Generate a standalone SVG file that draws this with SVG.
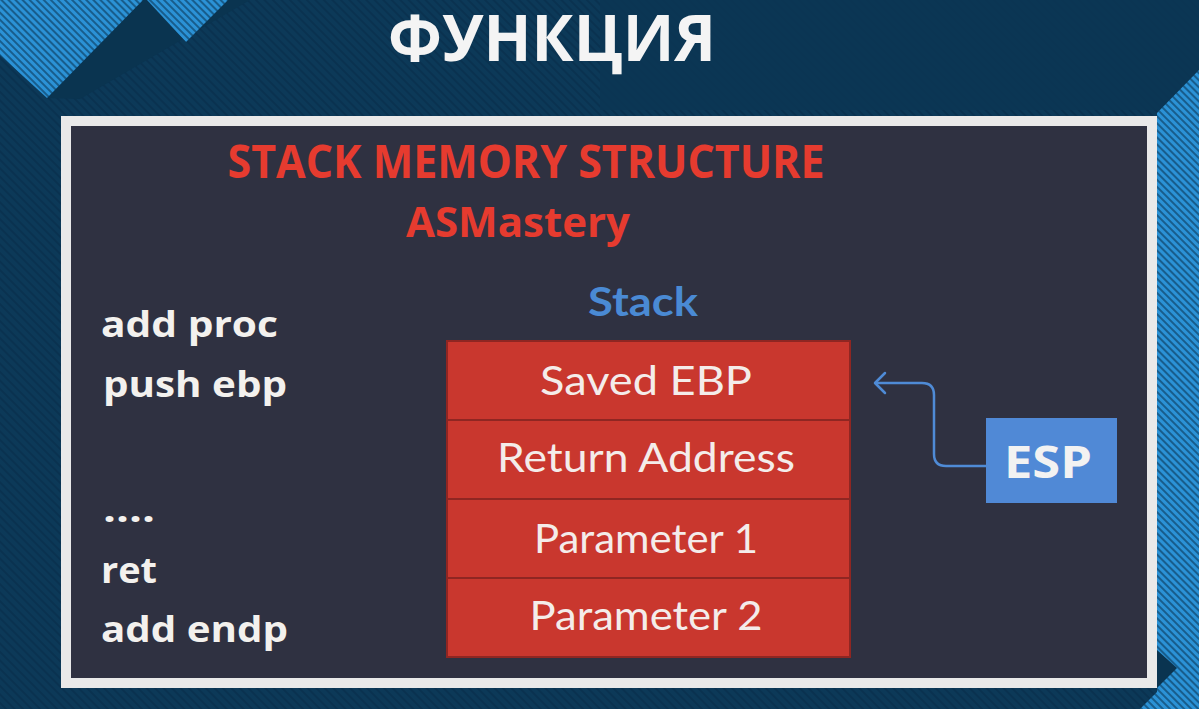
<svg xmlns="http://www.w3.org/2000/svg" width="1199" height="709" viewBox="0 0 1199 709">
  <defs>
    <!-- faint diagonal texture of the navy backdrop -->
    <pattern id="navyTex" width="6" height="6" patternUnits="userSpaceOnUse" patternTransform="rotate(-45)">
      <rect width="6" height="6" fill="#0c3958"/>
      <rect width="2" height="6" fill="#0a3250"/>
    </pattern>
    <!-- bright blue hatch used on the corner bands -->
    <pattern id="blueHatch" width="5" height="5" patternUnits="userSpaceOnUse" patternTransform="rotate(-45)">
      <rect width="5" height="5" fill="#2b92d6"/>
      <rect width="2" height="5" fill="#185d8c"/>
    </pattern>
    <marker id="chevron" markerUnits="userSpaceOnUse" markerWidth="20" markerHeight="24" refX="12" refY="12" orient="auto">
      <path d="M2,2 L12,12 L2,22" fill="none" stroke="#4f8bd6" stroke-width="2.5" stroke-linecap="round" stroke-linejoin="round"/>
    </marker>
    <style>
      .code { font-family: "Open Sans", "Liberation Sans", sans-serif; font-weight: 700; font-size: 35px; fill: #f3f1ee; }
      .head { font-family: "Open Sans", "Liberation Sans", sans-serif; font-weight: 700; fill: #e63b2f; text-anchor: middle; }
      .cell { fill: #c9372e; stroke: #8f2622; stroke-width: 2; }
      .cellText { font-family: Lato, "Open Sans", sans-serif; font-size: 41px; fill: #f4ecea; text-anchor: middle; }
    </style>
  </defs>

  <!-- backdrop -->
  <g id="backdrop">
    <rect width="1199" height="709" fill="url(#navyTex)"/>
    <rect x="600" y="0" width="599" height="110" fill="#0b3654" opacity="0.8"/>
    <polygon points="143,0 250,0 80,99 47,98" fill="#0a3450"/>
    <polygon points="0,0 143,0 47,98 0,55" fill="url(#blueHatch)"/>
    <polygon points="147,0 228,0 186,42" fill="url(#blueHatch)"/>
    <polygon points="1157,113 1199,70 1199,709 1140,709 1157,692" fill="url(#blueHatch)"/>
    <polygon points="1157,650 1177,668 1157,688" fill="#0a3450"/>
  </g>

  <!-- heading -->
  <text id="title" x="552" y="61" font-family="'Open Sans', 'Liberation Sans', sans-serif" font-weight="700" font-size="64" fill="#f4f4f4" text-anchor="middle" textLength="328" lengthAdjust="spacingAndGlyphs">ФУНКЦИЯ</text>

  <!-- slide panel -->
  <g id="panel">
    <rect x="66" y="121" width="1086" height="562" fill="#2f3141" stroke="#e9e9e9" stroke-width="10"/>
  </g>

  <g id="headings">
    <text class="head" x="526" y="178" font-size="46" textLength="597" lengthAdjust="spacingAndGlyphs">STACK MEMORY STRUCTURE</text>
    <text class="head" x="518" y="237" font-size="42" textLength="224" lengthAdjust="spacingAndGlyphs">ASMastery</text>
  </g>

  <!-- assembly listing -->
  <g id="code">
    <text class="code" x="101" y="337" textLength="177" lengthAdjust="spacingAndGlyphs">add proc</text>
    <text class="code" x="103" y="397" textLength="184" lengthAdjust="spacingAndGlyphs">push ebp</text>
    <text class="code" x="103" y="522" textLength="52" lengthAdjust="spacingAndGlyphs">....</text>
    <text class="code" x="101" y="583" textLength="56" lengthAdjust="spacingAndGlyphs">ret</text>
    <text class="code" x="101" y="642" textLength="187" lengthAdjust="spacingAndGlyphs">add endp</text>
  </g>

  <text id="stack-label" x="643" y="316" font-family="Lato, 'Open Sans', sans-serif" font-weight="700" font-size="40" fill="#4a8ad4" text-anchor="middle" textLength="110" lengthAdjust="spacingAndGlyphs">Stack</text>

  <!-- stack frames -->
  <g id="saved-ebp">
    <rect class="cell" x="447" y="341" width="403" height="79"/>
    <text class="cellText" x="646" y="395" textLength="212" lengthAdjust="spacingAndGlyphs">Saved EBP</text>
  </g>
  <g id="return-address">
    <rect class="cell" x="447" y="420" width="403" height="79"/>
    <text class="cellText" x="646" y="472" textLength="298" lengthAdjust="spacingAndGlyphs">Return Address</text>
  </g>
  <g id="parameter-1">
    <rect class="cell" x="447" y="499" width="403" height="79"/>
    <text class="cellText" x="646" y="553" textLength="224" lengthAdjust="spacingAndGlyphs">Parameter 1</text>
  </g>
  <g id="parameter-2">
    <rect class="cell" x="447" y="578" width="403" height="79"/>
    <text class="cellText" x="646" y="630" textLength="233" lengthAdjust="spacingAndGlyphs">Parameter 2</text>
  </g>

  <g id="esp">
    <rect x="986" y="418" width="131" height="85" fill="#5089d6"/>
    <text x="1048" y="478" font-family="'Open Sans', 'Liberation Sans', sans-serif" font-weight="700" font-size="44" fill="#f2f2f2" text-anchor="middle" textLength="88" lengthAdjust="spacingAndGlyphs">ESP</text>
  </g>

  <!-- connectors -->
  <g id="connectors">
    <path d="M986,466 H946 Q934,466 934,454 V395 Q934,383 922,383 H875" fill="none" stroke="#4f8bd6" stroke-width="2.5" marker-end="url(#chevron)"/>
  </g>
</svg>
